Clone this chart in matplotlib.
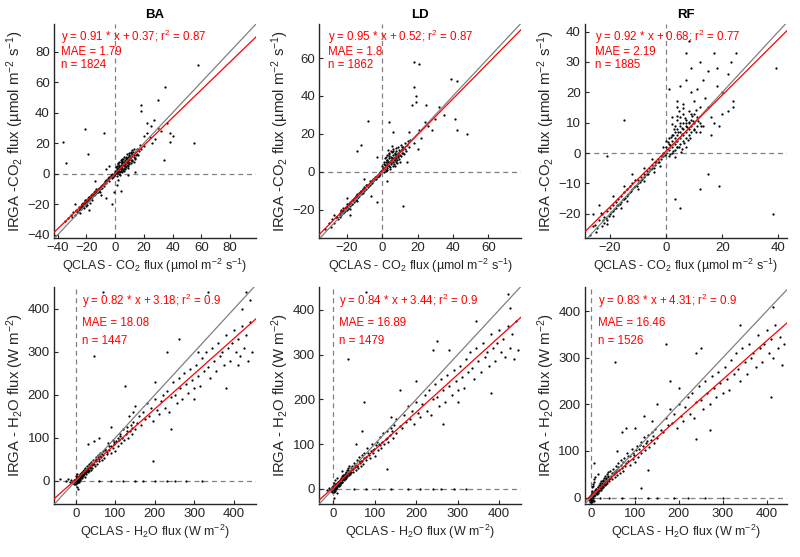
import matplotlib
matplotlib.use("Agg")
from matplotlib import pyplot as plt

plt.rcParams['font.family'] = ['Liberation Sans', 'DejaVu Sans']
plt.rcParams['mathtext.fontset'] = 'custom'
plt.rcParams['mathtext.rm'] = 'Liberation Sans'
plt.rcParams['mathtext.it'] = 'Liberation Sans:italic'
plt.rcParams['mathtext.bf'] = 'Liberation Sans:bold'

# ---- data (x = QCLAS, y = IRGA) ----
sites = ['BA', 'LD', 'RF']

co2_slope = [0.91, 0.95, 0.92]
co2_icpt = [0.37, 0.52, 0.68]
co2_r2 = [0.87, 0.87, 0.77]
co2_mae = ['1.79', '1.8', '2.19']
co2_n = [1824, 1862, 1885]

h2o_slope = [0.82, 0.84, 0.83]
h2o_icpt = [3.18, 3.44, 4.31]
h2o_r2 = [0.9, 0.9, 0.9]
h2o_mae = ['18.08', '16.89', '16.46']
h2o_n = [1447, 1479, 1526]

ba_co2_pts = [(-35,-31),(-33,-29),(-31,-27),(-30,-28),(-29,-25),(-28,-27),(-27,-24),(-26,-25),(-25,-22),(-25,-24),
              (-24,-21),(-24,-23),(-23,-22),(-23,-20),(-22,-19),(-22,-21),(-21,-18),(-21,-20),(-20,-17),(-20,-19),
              (-20,-21),(-19,-16),(-19,-18),(-18,-17),(-18,-15),(-17,-16),(-17,-14),(-16,-15),(-16,-13),(-15,-14),
              (-15,-12),(-14,-13),(-14,-11),(-13,-12),(-12,-10),(-12,-12),(-11,-9),(-11,-11),(-10,-9),(-10,-8),
              (-9,-7),(-9,-9),(-8,-6),(-8,-8),(-7,-6),(-7,-5),(-6,-5),(-6,-4),(-5,-4),(-5,-3),(-4,-3),(-4,-2),
              (-3,-2),(-3,-1),(-2,-1),(-2,0),(-1,0),(-1,-1),
              (0,1),(0,2),(1,1),(1,3),(1,2),(2,2),(2,4),(2,1),(3,3),(3,5),(3,2),(4,4),(4,6),(4,2),(5,5),(5,7),(5,3),
              (6,6),(6,8),(6,4),(7,7),(7,9),(7,5),(8,8),(8,10),(8,6),(9,9),(9,11),(9,7),(10,10),(10,12),(10,8),
              (11,11),(11,9),(12,12),(12,13),(13,12),(14,14),(15,13),(13,16),(11,14),(8,13),(5,10),(3,8),(2,7),
              (6,11),(4,9),(12,9),(15,16),(16,12),(18,16),(14,10),(17,19),(20,18),
              (58,71),(35,57),(30,48),(18,45),(18,41),(-36,21),(-21,29),(-8,27),(-34,7),(-19,13),(22,33),(25,31),
              (27,35),(32,28),(36,33),(38,27),(40,25),(38,21),(55,20),(34,9),(24,24),(22,27),(28,23),(20,25),
              (26,20),(30,30),(-1,-12),(1,-7),(2,-4),(-2,-20),(4,-11),(9,-1),(14,1),(-6,-16),(-10,-14),(-14,-5),
              (-18,-24),(-28,-20),(-4,5),(-6,3)]
ba_co2_dense = [(0.5,1.8),(1.5,0.4),(2.5,3.6),(3.5,1.2),(4.5,5.8),(5.5,2.6),(6.5,7.4),(7.5,4.2),(8.5,9.6),(9.5,6.3),
                (10.5,11.8),(11.5,8.4),(12.5,14.2),(13.5,10.1),(0.8,4.5),(1.8,6.2),(2.8,0.2),(3.8,7.8),(4.8,1.5),
                (5.8,9.5),(6.8,3.1),(7.8,11.2),(8.8,5.4),(9.8,13.5),(10.8,7.2),(11.8,15.5),(13.2,7.8),(14.5,12.1),
                (16.5,14.8),(1.2,-1.5),(3.2,-0.8),(6.2,1.8),(9.2,3.5),(0.3,0.8),(2.2,2.9),(4.2,3.3),(6.6,6.1),
                (8.1,8.6),(-0.5,-0.6),(-1.5,-2.1),(-2.5,-2.7),(-3.5,-2.4),(-4.5,-4.6),(-5.5,-4.2),(-6.5,-6.3),
                (-7.5,-6.9),(-8.5,-7.4),(-9.5,-8.9),(-10.5,-9.8),(-11.5,-10.1),(-12.5,-11.6),(-13.5,-12.3),
                (-14.5,-13.8),(-15.5,-13.9),(-16.5,-15.7),(-17.5,-16.1),(-18.5,-17.4),(-19.5,-18.3),(-20.5,-19.6),
                (-21.5,-19.2),(-22.5,-21.4),(-23.5,-21.8),(-24.5,-22.9),(-26.5,-24.8),(-17.8,-18.9),(-19.2,-20.3),
                (-21.3,-22.4),(-16.2,-17.1),(-20.8,-17.2),(-22.8,-19.6),(-18.3,-14.9),(-24.2,-25.8),(-13.2,-10.2),
                (-10.8,-11.9),(2.7,5.1),(5.1,8.7),(7.3,10.4),(9.7,11.2),(11.2,13.6),(12.9,11.1),(1.4,4.8),(3.9,4.7)]

ld_co2_pts = [(-32,-30),(-30,-27),(-29,-29),(-28,-25),(-27,-27),(-26,-24),(-25,-25),(-24,-22),(-24,-24),(-23,-21),
              (-23,-23),(-22,-20),(-22,-22),(-21,-19),(-21,-21),(-20,-18),(-20,-20),(-19,-17),(-19,-19),(-18,-16),
              (-18,-18),(-17,-15),(-17,-17),(-16,-14),(-16,-16),(-15,-13),(-15,-15),(-14,-12),(-14,-14),(-13,-11),
              (-13,-13),(-12,-10),(-12,-12),(-11,-9),(-11,-11),(-10,-8),(-10,-10),(-9,-7),(-9,-9),(-8,-7),(-8,-8),
              (-7,-5),(-7,-7),(-6,-5),(-6,-6),(-5,-4),(-5,-5),(-4,-3),(-4,-4),(-3,-2),(-3,-3),(-2,-1),(-2,-2),
              (-1,0),(-1,-1),
              (0,1),(0,3),(1,2),(1,4),(1,0),(2,3),(2,5),(2,1),(3,4),(3,6),(3,2),(4,5),(4,7),(4,3),(5,6),(5,8),(5,4),
              (6,7),(6,9),(6,5),(7,8),(7,10),(7,6),(8,9),(8,11),(8,7),(9,10),(9,8),(10,11),(10,9),(11,12),(11,10),
              (12,13),(13,12),(14,14),(2,8),(4,10),(6,12),(3,9),(5,11),(9,13),(12,10),(15,13),(16,17),(18,15),
              (7,3),(10,5),
              (18,58),(21,57),(18,45),(19,40),(19,37),(17,35),(25,35),(32,34),(39,49),(42,48),(41,28),(42,22),
              (48,20),(-8,27),(-12,14),(-14,11),(-3,8),(12,-18),(-3,-16),(-6,-13),(-18,-23),(26,24),(24,26),
              (21,22),(15,21),(13,15),(4,26),(6,21),(20,12),(14,5),(3,-5),(-10,-4),(-20,-14),(-27,-23),(30,28),
              (35,30),(22,18),(28,22)]
ld_co2_dense = [(0.5,2.2),(1.5,3.8),(2.5,1.1),(3.5,5.2),(4.5,2.4),(5.5,7.1),(6.5,4.3),(7.5,9.2),(8.5,6.1),(9.5,11.4),
                (10.5,8.2),(11.5,13.1),(12.5,9.4),(0.8,5.1),(1.8,7.2),(2.8,3.1),(3.8,9.3),(4.8,4.6),(5.8,10.2),
                (6.8,6.2),(7.8,12.4),(8.8,8.3),(9.8,6.8),(10.8,13.9),(2.2,0.4),(4.2,1.6),(6.2,2.9),(8.2,4.8),
                (1.2,1.2),(3.2,3.4),(5.2,5.6),(7.2,7.4),(9.2,9.6),(11.2,11.5),(13.5,11.2),(14.8,16.2),(3.5,11.5),
                (5.5,13.6),(-0.5,0.2),(-1.5,-1.6),(-2.5,-2.1),(-3.5,-3.8),(-4.5,-3.9),(-5.5,-5.7),(-6.5,-5.6),
                (-7.5,-7.2),(-8.5,-7.1),(-9.5,-9.3),(-10.5,-9.1),(-11.5,-11.2),(-12.5,-10.9),(-13.5,-13.2),
                (-14.5,-12.8),(-15.5,-15.1),(-16.5,-14.7),(-17.5,-17.2),(-18.5,-16.8),(-19.5,-19.3),(-20.5,-18.7),
                (-21.5,-21.1),(-22.5,-20.6),(-23.5,-22.9),(-25.5,-24.1),(-19.8,-17.2),(-18.2,-19.5),(-21.8,-19.4),
                (-23.2,-20.1),(-16.8,-16.9),(-14.2,-15.3),(-11.8,-10.2),(2.6,6.4),(4.1,8.1),(6.1,10.8),(7.7,5.3)]

rf_co2_pts = [(-27,-27),(-26,-24),(-25,-26),(-24,-22),(-23,-24),(-23,-20),(-22,-21),(-22,-23),(-21,-19),(-21,-22),
              (-20,-18),(-20,-20),(-19,-17),(-19,-19),(-18,-16),(-18,-18),(-17,-15),(-17,-17),(-16,-14),(-16,-16),
              (-15,-13),(-15,-15),(-14,-12),(-14,-14),(-13,-11),(-13,-13),(-12,-10),(-12,-12),(-11,-9),(-11,-11),
              (-10,-9),(-10,-10),(-9,-8),(-9,-9),(-8,-7),(-8,-8),(-7,-6),(-7,-7),(-6,-5),(-6,-6),(-5,-4),(-5,-5),
              (-4,-3),(-4,-4),(-3,-2),(-3,-3),(-2,-1),(-2,-2),(-1,0),(-1,-1),(-24,-17),(-26,-20),(-19,-14),
              (-15,-11),(-12,-7),(-8,-5),(-5,-2),
              (0,0),(0,2),(1,1),(1,3),(1,-1),(2,2),(2,4),(2,0),(3,3),(3,5),(3,1),(3,7),(4,4),(4,6),(4,2),(4,8),
              (5,5),(5,7),(5,3),(5,9),(6,6),(6,8),(6,4),(6,10),(7,7),(7,9),(7,5),(7,11),(8,8),(8,10),(8,6),(9,9),
              (9,7),(9,11),(10,10),(10,8),(11,9),(11,12),(12,10),(2,6),(3,9),(4,11),(5,12),(1,5),(6,13),(8,14),
              (10,13),(12,7),(13,9),(0,4),(-1,2),
              (7,33),(8,37),(12,30),(17,33),(23,30),(25,33),(39,28),(-15,11),(-21,-1),(15,-7),(19,-11),(12,-12),
              (38,-20),(3,-15),(5,-18),(20,20),(24,17),(24,15),(22,14),(16,12),(19,9),(16,6),(13,24),(15,27),
              (7,24),(5,22),(4,15),(4,17),(9,20),(11,21),(1,21),(14,18),(18,22),(10,17),(12,15),(6,16),(2,12),
              (15,15),(20,13),(17,10),(22,26),(9,28),(18,28)]
rf_co2_dense = [(0.5,1.2),(1.5,2.8),(2.5,0.6),(3.5,4.1),(4.5,1.9),(5.5,6.4),(6.5,3.2),(7.5,8.6),(8.5,5.1),(9.5,10.7),
                (10.5,6.9),(11.5,10.4),(0.8,3.5),(1.8,5.3),(2.8,7.9),(3.8,2.1),(4.8,9.8),(5.8,1.4),(6.8,11.6),
                (7.8,4.4),(8.8,12.9),(9.8,7.6),(10.8,14.3),(12.5,8.8),(1.2,-0.4),(3.2,-1.2),(5.2,0.3),(7.2,2.1),
                (2.2,9.6),(3.7,12.3),(4.6,13.8),(6.1,14.9),(2.6,5.8),(4.1,6.9),(5.6,8.2),(7.1,9.9),(8.3,10.3),
                (9.1,12.1),(-0.5,-0.8),(-1.5,-1.1),(-2.5,-2.9),(-3.5,-3.1),(-4.5,-4.8),(-5.5,-5.2),(-6.5,-6.9),
                (-7.5,-7.3),(-8.5,-8.7),(-9.5,-9.4),(-10.5,-10.9),(-11.5,-11.3),(-12.5,-12.6),(-13.5,-13.4),
                (-14.5,-14.8),(-15.5,-15.2),(-16.5,-16.9),(-17.5,-17.1),(-18.5,-18.6),(-19.5,-19.4),(-20.5,-20.7),
                (-21.5,-21.3),(-22.5,-22.2),(-24.5,-24.6),(-25.5,-23.8),(-18.8,-20.6),(-16.2,-18.1),(-13.8,-15.7),
                (-21.2,-23.4),(-10.2,-11.8),(-7.8,-9.2),(-4.2,-6.1),(-2.2,-4.3),(-23.1,-19.8)]

ba_h2o_pts = [(-8,-5),(-5,2),(-3,-8),(-2,3),(0,0),(0,5),(1,-3),(2,2),(2,8),(3,-1),(4,4),(5,10),(5,0),(6,6),(7,3),
              (8,12),(8,-2),(9,8),(10,5),(10,15),(11,10),(12,2),(13,14),(14,8),(15,18),(15,12),(16,6),(17,16),
              (18,22),(19,12),(20,20),(21,15),(22,25),(23,18),(24,10),(25,28),(26,22),(27,16),(28,30),(29,24),
              (30,20),(31,32),(32,27),(33,36),(34,22),(35,30),(36,40),(37,33),(38,26),(39,44),(40,36),(-12,3),
              (-15,-2),(-20,5),(-25,-1),(3,-15),(5,-20),
              (42,30),(44,48),(46,40),(48,35),(50,55),(52,46),(54,40),(56,60),(58,50),(60,45),(62,65),(64,55),
              (66,48),(68,70),(70,60),(72,52),(75,75),(78,62),(80,68),(82,88),(85,72),(88,65),(90,80),(93,95),
              (95,76),(98,85),(100,70),(103,92),(106,100),(108,82),(110,95),(113,110),(115,88),(118,100),
              (120,120),(123,96),(126,108),(130,125),(133,100),(136,115),(140,130),(143,110),(146,138),(150,120),
              (45,92),(60,100),(30,85),(90,125),(125,220),(135,150),(145,160),(150,175),(155,135),
              (160,150),(165,130),(170,160),(175,145),(180,180),(185,150),(190,170),(195,140),(200,190),
              (205,165),(210,155),(215,185),(220,200),(225,170),(230,210),(235,160),(240,195),(245,230),
              (250,200),(255,180),(260,240),(265,215),(270,190),(275,250),(280,225),(285,205),(290,260),
              (295,235),(300,215),(305,270),(310,245),(315,220),(320,285),(325,255),(330,300),(335,265),
              (340,240),(345,310),(350,280),(355,255),(360,320),(365,290),(370,300),(375,270),(380,340),
              (385,310),(390,280),(395,320),(400,350),(405,300),(410,330),(415,290),(420,360),(425,310),
              (430,340),(435,280),(440,370),(445,300),(440,420),(430,440),(420,400),(410,270),(380,215),
              (300,190),(260,330),(230,300),(195,45),(45,290),(335,440),(70,440),(240,120),(200,230),(310,300),
              (60,0),(90,0),(120,0),(150,0),(170,0),(200,0),(230,0),(250,0),(280,0),(320,0),(-40,5)]
ba_h2o_dense = [(1.5,3.2),(3.5,6.1),(4.5,2.3),(6.5,9.4),(7.5,5.2),(9.5,12.1),(11.5,6.8),(12.5,17.3),(14.5,11.2),
                (16.5,20.4),(18.5,14.6),(20.5,25.1),(22.5,19.3),(24.5,29.2),(26.5,20.8),(28.5,33.4),(30.5,26.2),
                (33.5,39.1),(36.5,31.6),(39.5,41.2),(43.5,39.8),(47.5,48.3),(52.5,51.2),(57.5,54.9),(62.5,58.1),
                (-2.5,-1.5),(-1.5,1.8),(0.5,-4.5),(2.5,-6.2),(5.5,-3.5),(8.5,0.5),(-4.5,-7),(0.8,12),(3.2,16),
                (67.5,63.2),(73.5,71.8),(84.5,81.2),(96.5,90.4),(111.5,104.2),(128.5,116.8),(141.5,122.3)]

ld_h2o_pts = [(-5,-3),(-3,4),(-2,-8),(0,0),(0,6),(1,-2),(2,3),(3,9),(4,-1),(5,5),(6,11),(7,2),(8,8),(9,14),(10,4),
              (11,10),(12,16),(13,7),(14,12),(15,20),(16,9),(17,15),(18,24),(19,13),(20,19),(21,28),(22,16),
              (23,22),(24,31),(25,19),(26,26),(27,34),(28,22),(29,29),(30,38),(31,25),(32,32),(33,42),(34,28),
              (35,36),(36,46),(37,30),(38,40),(39,50),(40,34),(-10,2),(-15,-3),(2,-20),(8,-10),(10,25),(20,40),
              (42,38),(44,52),(46,44),(48,38),(50,58),(52,48),(54,42),(56,64),(58,52),(60,47),(62,70),(64,58),
              (66,50),(68,75),(70,62),(72,55),(75,80),(78,65),(80,72),(82,92),(85,75),(88,68),(90,85),(93,100),
              (95,80),(98,88),(100,74),(103,97),(106,105),(108,86),(110,100),(113,115),(115,92),(118,105),
              (120,125),(123,100),(126,112),(130,130),(133,104),(136,120),(140,135),(143,114),(146,142),
              (150,124),(75,195),(70,130),(55,100),(130,45),(140,160),(150,155),(160,220),
              (160,140),(165,135),(170,165),(175,150),(180,185),(185,155),(190,175),(195,145),(200,195),
              (205,170),(210,160),(215,190),(220,210),(225,175),(230,220),(235,165),(240,200),(245,235),
              (250,205),(255,185),(260,245),(265,220),(270,195),(275,255),(280,230),(285,210),(290,265),
              (295,240),(300,220),(305,275),(310,250),(315,225),(320,290),(325,260),(330,305),(335,270),
              (340,245),(345,315),(350,285),(355,260),(360,325),(365,295),(370,305),(375,275),(380,345),
              (385,315),(390,285),(395,325),(400,355),(405,305),(410,335),(415,295),(420,365),(425,315),
              (430,345),(435,290),(440,375),(445,310),(420,435),(425,405),(380,215),(265,145),(250,330),
              (240,310),(35,290),(80,440),(345,375),(300,195),(200,240),(280,310),
              (50,0),(80,0),(110,0),(140,0),(180,0),(210,0),(240,0),(260,0),(290,0),(320,0)]
ld_h2o_dense = [(1.5,4.2),(3.5,2.1),(4.5,8.3),(6.5,5.4),(7.5,11.2),(9.5,7.1),(11.5,14.8),(12.5,9.3),(14.5,18.2),
                (16.5,12.4),(18.5,21.6),(20.5,15.2),(22.5,27.1),(24.5,21.3),(26.5,31.2),(28.5,25.8),(30.5,35.4),
                (33.5,29.1),(36.5,41.6),(39.5,36.2),(43.5,45.8),(47.5,43.3),(52.5,54.2),(57.5,50.9),(62.5,63.1),
                (-2.5,-3.5),(-1.5,2.8),(0.5,-6.5),(3.5,-4.2),(6.5,-1.5),(-6.5,-5),(1.8,14),(5.2,19),
                (67.5,61.2),(73.5,69.8),(84.5,79.2),(96.5,87.4),(111.5,98.2),(128.5,112.8),(141.5,128.3)]

rf_h2o_pts = [(-5,-5),(-3,3),(-2,-10),(0,0),(0,5),(1,-3),(2,4),(3,10),(4,0),(5,6),(6,12),(7,3),(8,9),(9,16),(10,5),
              (11,12),(12,19),(13,8),(14,14),(15,23),(16,10),(17,17),(18,27),(19,14),(20,21),(21,31),(22,17),
              (23,25),(24,35),(25,20),(26,28),(27,38),(28,23),(29,32),(30,42),(31,26),(32,35),(33,46),(34,29),
              (35,39),(36,50),(37,31),(38,43),(39,55),(40,35),(5,30),(8,40),(3,-5),(6,-8),(2,15),(10,45),(15,50),
              (6,75),
              (42,40),(44,56),(46,46),(48,40),(50,62),(52,50),(54,44),(56,68),(58,54),(60,48),(62,74),(64,60),
              (66,52),(68,80),(70,64),(72,56),(75,85),(78,68),(80,74),(82,96),(85,78),(88,70),(90,90),(93,104),
              (95,82),(98,92),(100,76),(103,102),(106,110),(108,88),(110,104),(113,120),(115,96),(118,110),
              (120,130),(123,102),(126,116),(130,135),(133,108),(136,124),(140,140),(143,118),(146,148),
              (150,128),(115,20),(130,60),(70,140),(80,150),(100,150),(120,175),(140,165),(150,200),(55,290),
              (60,100),
              (160,145),(165,140),(170,170),(175,155),(180,190),(185,160),(190,180),(195,150),(200,200),
              (205,175),(210,165),(215,195),(220,215),(225,180),(230,225),(235,170),(240,205),(245,240),
              (250,210),(255,190),(260,250),(265,225),(270,200),(275,260),(280,235),(285,215),(290,270),
              (295,245),(300,225),(305,280),(310,255),(315,230),(320,295),(325,265),(330,310),(335,275),
              (340,250),(345,320),(350,290),(355,265),(360,330),(365,300),(370,310),(375,280),(380,350),
              (385,320),(390,290),(395,330),(400,360),(405,310),(410,340),(415,300),(420,370),(425,320),
              (430,345),(435,285),(440,330),(415,410),(410,215),(240,125),(240,310),(250,320),(170,330),
              (340,370),(270,145),(200,235),(180,250),
              (20,0),(40,0),(70,0),(100,0),(130,0),(150,0),(190,0),(220,0),(260,0),(300,0)]
rf_h2o_dense = [(1.5,2.2),(3.5,7.1),(4.5,3.3),(6.5,10.4),(7.5,6.2),(9.5,13.1),(11.5,8.8),(12.5,18.3),(14.5,12.2),
                (16.5,22.4),(18.5,16.6),(20.5,27.1),(22.5,21.3),(24.5,31.2),(26.5,24.8),(28.5,36.4),(30.5,29.2),
                (33.5,41.1),(36.5,34.6),(39.5,46.2),(43.5,42.8),(47.5,52.3),(52.5,55.2),(57.5,58.9),(62.5,66.1),
                (-2.5,-2.5),(-1.5,1.8),(0.5,-7.5),(1.5,-10.2),(4.5,-4.5),(2.2,22),(4.2,25),(7.5,33.1),
                (67.5,70.2),(73.5,76.8),(84.5,88.2),(96.5,95.4),(111.5,112.2),(128.5,120.8),(141.5,131.3)]

co2_pts = [ba_co2_pts + ba_co2_dense, ld_co2_pts + ld_co2_dense, rf_co2_pts + rf_co2_dense]
h2o_pts = [ba_h2o_pts + ba_h2o_dense, ld_h2o_pts + ld_h2o_dense, rf_h2o_pts + rf_h2o_dense]

# axis limits and ticks per panel
co2_xlim = [(-42.5, 98), (-35.5, 78.5), (-29, 43)]
co2_ylim = [(-42, 98), (-35, 78), (-28, 42.5)]
co2_xticks = [range(-40, 81, 20), range(-20, 61, 20), range(-20, 41, 20)]
co2_yticks = [range(-40, 81, 20), range(-20, 61, 20), range(-20, 41, 10)]
h2o_xlim = [(-55, 456), (-34, 453), (-14, 446)]
h2o_ylim = [(-54, 451), (-34, 451), (-14, 452)]

AX_COL = '#262626'
LEFTS = [0.0675, 0.399, 0.731]


def style_axes(ax):
    """MATLAB-ish look: box off, ticks inward"""
    for s in ['top', 'right']:
        ax.spines[s].set_visible(False)
    for s in ['left', 'bottom']:
        ax.spines[s].set_color(AX_COL)
        ax.spines[s].set_linewidth(1.0)
    ax.tick_params(direction='in', length=3, width=0.8, colors=AX_COL, labelsize=9.5, pad=3)


def draw_panel(ax, pts, xlim, ylim, slope, icpt, r2, mae, n, tx, ty):
    xs = [p[0] for p in pts]
    ys = [p[1] for p in pts]
    ax.set_xlim(xlim)
    ax.set_ylim(ylim)
    ax.axvline(0, color='#808080', lw=0.9, ls=(0, (4, 3)), zorder=1)
    ax.axhline(0, color='#808080', lw=0.9, ls=(0, (4, 3)), zorder=1)
    ax.scatter(xs, ys, s=2.6, color='black', linewidths=0, zorder=2)
    lo = min(xlim[0], ylim[0])
    hi = max(xlim[1], ylim[1])
    ax.plot([lo, hi], [lo, hi], color='#808080', lw=0.9, zorder=3)          # 1:1 line
    ax.plot(list(xlim), [slope * v + icpt for v in xlim], color='red', lw=0.9, zorder=4)  # fit
    txt = ['y = {} * x + {}; r$^2$ = {}'.format(slope, icpt, r2),
           'MAE = {}'.format(mae),
           'n = {}'.format(n)]
    for t, yy in zip(txt, ty):
        ax.text(tx, yy, t, transform=ax.transAxes, color='red', fontsize=8.3, va='center', ha='left')
    style_axes(ax)


fig = plt.figure(figsize=(8, 5.57), dpi=100)

for i in range(3):
    ax = fig.add_axes([LEFTS[i], 0.5727, 0.2525, 0.3842])
    draw_panel(ax, co2_pts[i], co2_xlim[i], co2_ylim[i], co2_slope[i], co2_icpt[i], co2_r2[i],
               co2_mae[i], co2_n[i], [0.035, 0.045, 0.05][i], [0.94, 0.87, 0.81])
    ax.set_xticks(list(co2_xticks[i]))
    ax.set_yticks(list(co2_yticks[i]))
    ax.set_title(sites[i], fontsize=9.5, fontweight='bold', pad=4)
    ax.set_xlabel('QCLAS - CO$_2$ flux (µmol m$^{-2}$ s$^{-1}$)', fontsize=9, color=AX_COL, labelpad=2)
    ax.set_ylabel('IRGA -CO$_2$ flux (µmol m$^{-2}$ s$^{-1}$)', fontsize=10.7, color=AX_COL, labelpad=1)

    ax2 = fig.add_axes([LEFTS[i], 0.0951, 0.2525, 0.3896])
    draw_panel(ax2, h2o_pts[i], h2o_xlim[i], h2o_ylim[i], h2o_slope[i], h2o_icpt[i], h2o_r2[i],
               h2o_mae[i], h2o_n[i], [0.14, 0.10, 0.064][i], [0.935, 0.834, 0.75])
    ax2.set_xticks(range(0, 401, 100))
    ax2.set_yticks(range(0, 401, 100))
    ax2.set_xlabel('QCLAS - H$_2$O flux (W m$^{-2}$)', fontsize=9, color=AX_COL, labelpad=2)
    ax2.set_ylabel('IRGA - H$_2$O flux (W m$^{-2}$)', fontsize=10.7, color=AX_COL, labelpad=1)

fig.savefig('out.png', dpi=100)
